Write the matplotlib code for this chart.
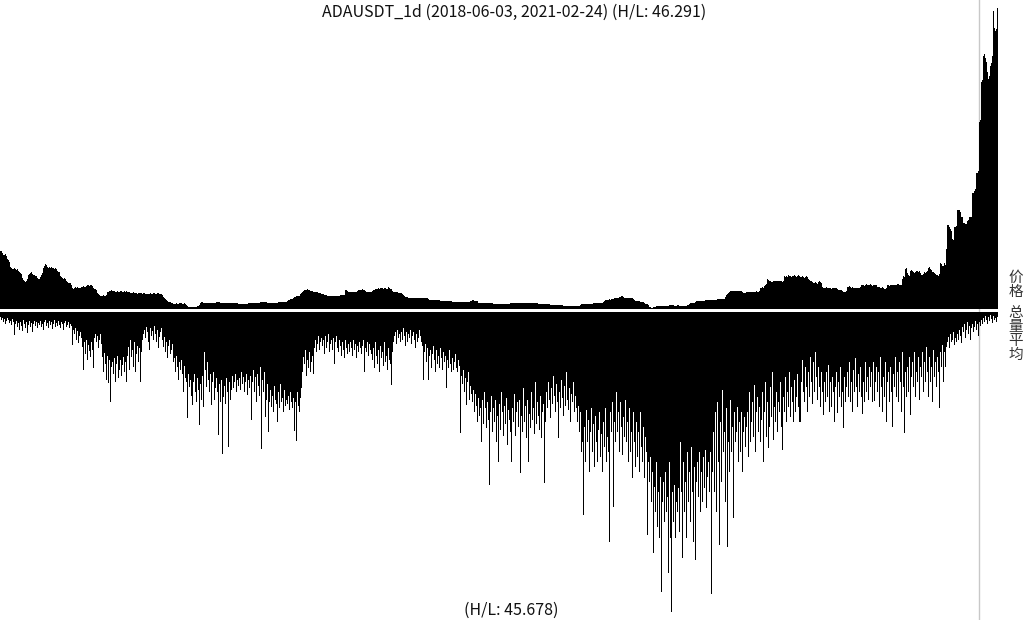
import numpy as np
import pandas as pd
import matplotlib
matplotlib.use('Agg')
import matplotlib.pyplot as plt
from matplotlib.lines import Line2D

plt.rcParams['font.family'] = ['Noto Sans CJK SC', 'DejaVu Sans']

# Price bars (daily, relative height)
price_2018 = [
    58, 58, 56, 54, 54, 55, 53, 50, 49, 47,
    42, 41, 40, 40, 41, 40, 39, 40, 38, 37,
    36, 35, 31, 29, 28, 27, 28, 30, 34, 35,
    36, 37, 35, 34, 34, 33, 33, 31, 30, 30,
    32, 34, 36, 41, 43, 45, 44, 42, 41, 42,
    41, 42, 41, 41, 40, 41, 40, 38, 37, 37,
    33, 32, 31, 30, 31, 30, 28, 27, 26, 26,
    26, 24, 21, 20, 21, 22, 21, 22, 21, 21,
    21, 22, 22, 23, 22, 22, 23, 24, 24, 23,
    24, 24, 23, 21, 20, 20, 19, 16, 15, 14,
    13, 13, 13, 14, 13, 13, 14, 17, 17, 18,
    18, 19, 18, 18, 18, 17, 17, 18, 17, 17,
    18, 18, 17, 17, 18, 17, 18, 17, 17, 17,
    16, 16, 16, 17, 16, 16, 16, 15, 16, 16,
    16, 16, 15, 16, 16, 15, 15, 15, 15, 15,
    16, 15, 15, 16, 16, 15, 15, 16, 16, 15,
    15, 15, 14, 12, 11, 10, 9, 8, 7, 7,
    7, 6, 6, 5, 5, 5, 6, 5, 5, 6,
    6, 6, 5, 5, 6, 5, 4, 3, 2, 2,
    2, 2, 2, 2, 2, 2, 2, 3, 3, 4,
    6, 7, 7, 6, 6, 6, 6, 6, 6, 6,
    6, 6,
]
price_2019 = [
    6, 6, 6, 6, 7, 7, 7, 7, 6, 6,
    6, 6, 6, 6, 6, 6, 6, 6, 6, 6,
    6, 6, 6, 6, 6, 6, 5, 5, 5, 5,
    5, 5, 5, 5, 5, 5, 6, 6, 6, 6,
    6, 6, 6, 6, 6, 6, 6, 6, 7, 7,
    7, 7, 7, 7, 7, 6, 6, 6, 6, 6,
    6, 6, 6, 6, 6, 6, 7, 7, 7, 7,
    7, 7, 7, 7, 7, 8, 9, 9, 10, 10,
    10, 11, 12, 12, 13, 13, 13, 13, 15, 16,
    17, 18, 19, 19, 19, 20, 19, 19, 18, 18,
    18, 17, 17, 17, 17, 17, 16, 16, 16, 15,
    15, 15, 14, 14, 14, 13, 13, 13, 13, 13,
    13, 13, 13, 13, 13, 13, 13, 13, 14, 14,
    14, 14, 14, 19, 19, 18, 17, 17, 17, 17,
    17, 17, 17, 17, 17, 18, 19, 19, 19, 19,
    20, 19, 19, 18, 17, 17, 17, 17, 17, 17,
    18, 19, 19, 20, 20, 20, 21, 20, 21, 21,
    21, 20, 21, 21, 20, 20, 22, 21, 20, 20,
    18, 17, 17, 17, 17, 17, 16, 16, 16, 16,
    15, 14, 13, 12, 12, 12, 11, 11, 11, 11,
    11, 11, 11, 11, 11, 11, 11, 11, 11, 11,
    11, 11, 11, 11, 11, 11, 10, 9, 9, 9,
    9, 9, 9, 9, 9, 9, 9, 9, 8, 8,
    8, 8, 8, 8, 8, 8, 8, 8, 8, 8,
    7, 7, 7, 7, 7, 7, 7, 7, 7, 7,
    7, 7, 7, 7, 7, 7, 7, 7, 8, 8,
    9, 9, 8, 8, 8, 8, 6, 6, 6, 6,
    6, 6, 6, 6, 6, 6, 6, 6, 6, 6,
    6, 5, 5, 5, 5, 5, 5, 5, 5, 5,
    5, 5, 5, 5, 5, 5, 5, 5, 6, 6,
    6, 6, 6, 6, 6, 6, 6, 6, 6, 6,
    6, 6, 6, 6, 6, 6, 6, 6, 6, 6,
    6, 6, 6, 6, 6, 6, 5, 5, 5, 5,
    5, 5, 5, 5, 5, 5, 5, 5, 4, 4,
    4, 4, 4, 4, 4, 4, 4, 4, 4, 4,
    4, 3, 3, 3, 3, 3, 3, 3, 3, 3,
    3, 3, 3, 3, 3,
]
price_2020 = [
    3, 3, 3, 4, 5, 5, 5, 5, 5, 5,
    5, 5, 5, 5, 5, 5, 6, 6, 6, 6,
    6, 6, 6, 6, 6, 6, 7, 8, 9, 9,
    9, 9, 10, 9, 10, 10, 10, 11, 11, 11,
    11, 11, 12, 12, 13, 13, 12, 11, 11, 11,
    11, 11, 11, 11, 11, 11, 10, 9, 8, 8,
    8, 8, 8, 7, 7, 7, 7, 6, 5, 5,
    5, 4, 2, 2, 1, 1, 2, 2, 2, 3,
    3, 3, 3, 3, 3, 3, 3, 3, 3, 3,
    3, 3, 4, 4, 4, 4, 4, 3, 3, 3,
    4, 4, 3, 3, 3, 3, 3, 3, 3, 3,
    4, 4, 5, 6, 6, 6, 6, 6, 7, 8,
    8, 8, 8, 8, 8, 8, 8, 8, 9, 9,
    9, 9, 9, 9, 9, 9, 9, 9, 9, 9,
    10, 10, 10, 10, 10, 10, 10, 10, 12, 14,
    15, 16, 17, 18, 18, 18, 18, 18, 18, 18,
    18, 18, 18, 18, 18, 17, 16, 16, 16, 17,
    17, 17, 17, 17, 17, 17, 17, 17, 17, 18,
    17, 17, 18, 21, 21, 22, 21, 23, 24, 25,
    30, 29, 28, 28, 27, 27, 28, 28, 28, 28,
    28, 28, 28, 28, 28, 27, 28, 33, 32, 33,
    32, 34, 33, 33, 32, 33, 33, 34, 33, 32,
    33, 34, 33, 32, 32, 33, 32, 31, 32, 33,
    32, 30, 29, 28, 28, 27, 26, 26, 27, 26,
    25, 27, 28, 27, 26, 22, 21, 21, 21, 22,
    21, 21, 21, 21, 20, 21, 21, 21, 21, 21,
    20, 19, 19, 19, 19, 18, 17, 17, 17, 18,
    22, 22, 23, 22, 21, 22, 21, 21, 21, 21,
    21, 21, 21, 22, 24, 24, 24, 23, 24, 25,
    24, 24, 24, 25, 24, 23, 24, 24, 24, 24,
    22, 22, 22, 21, 21, 22, 21, 20, 20, 21,
    24, 24, 23, 24, 24, 24, 24, 24, 24, 24,
    25, 25, 24, 24, 24, 30, 33, 32, 40, 41,
    36, 34, 33, 38, 39, 38, 37, 36, 37, 38,
    38, 37, 38, 36, 34, 34, 35, 37, 36, 37,
    38, 41, 42, 40, 39, 37, 37, 36, 35, 34,
    34, 33, 35, 46, 45, 43,
]
price_2021 = [
    43, 46, 44, 60, 84, 84, 82, 80, 78, 70,
    69, 82, 82, 83, 99, 99, 99, 97, 92, 92,
    86, 86, 85, 85, 88, 89, 92, 92, 92, 116,
    116, 118, 120, 136, 136, 138, 186, 188, 226, 228,
    252, 254, 250, 246, 236, 229, 232, 242, 245, 252,
    297, 280, 277, 279, 300,
]

# Average volume bars (daily, drawn downward)
volume_2018 = [
    5, 8, 6, 10, 7, 12, 9, 6, 8, 11,
    9, 13, 7, 10, 23, 12, 9, 15, 11, 18,
    10, 14, 19, 8, 12, 16, 10, 21, 13, 9,
    15, 11, 20, 12, 9, 14, 10, 16, 11, 13,
    9, 15, 12, 18, 10, 8, 14, 11, 16, 9,
    13, 10, 17, 12, 8, 15, 11, 14, 9, 13,
    16, 10, 12, 18, 11, 9, 15, 13, 10, 16,
    12, 14, 33, 18, 22, 16, 28, 19, 31, 24,
    20, 26, 35, 58, 30, 42, 28, 48, 33, 39,
    45, 30, 38, 56, 26, 22, 30, 24, 36, 28,
    22, 32, 45, 60, 41, 52, 68, 44, 71, 48,
    90, 55, 50, 62, 46, 70, 52, 44, 66, 58,
    48, 64, 53, 45, 60, 50, 70, 44, 35, 58,
    28, 45, 38, 55, 30, 60, 42, 34, 50, 36,
    70, 40, 28, 22, 18, 26, 15, 20, 30, 38,
    16, 24, 19, 28, 14, 22, 30, 18, 36, 25,
    20, 16, 28, 35, 25, 40, 30, 46, 34, 28,
    42, 38, 32, 50, 46, 60, 44, 55, 68, 50,
    58, 48, 62, 80, 54, 66, 70, 106, 62, 75,
    68, 84, 93, 70, 62, 80, 90, 66, 78, 113,
    72, 88, 64, 95, 40, 58, 75, 50, 68, 80,
    62, 93,
]
volume_2019 = [
    70, 60, 88, 76, 66, 80, 123, 72, 90, 68,
    142, 85, 74, 92, 66, 80, 135, 70, 88, 78,
    64, 76, 70, 62, 80, 68, 74, 66, 78, 60,
    72, 65, 80, 70, 62, 83, 68, 76, 64, 108,
    70, 58, 80, 65, 90, 62, 74, 84, 55, 137,
    68, 80, 60, 105, 88, 72, 120, 90, 78, 95,
    84, 100, 74, 88, 92, 110, 80, 96, 72, 90,
    86, 100, 78, 94, 88, 92, 84, 98, 80, 90,
    96, 86, 119, 90, 129, 80, 94, 100, 86, 76,
    60, 45, 52, 38, 64, 48, 56, 40, 60, 50,
    44, 62, 36, 28, 40, 32, 24, 38, 30, 26,
    34, 28, 42, 24, 36, 30, 22, 40, 32, 28,
    38, 26, 52, 30, 24, 36, 40, 28, 34, 44,
    30, 38, 46, 28, 36, 42, 32, 40, 30, 36,
    44, 28, 38, 32, 46, 34, 40, 30, 36, 42,
    34, 28, 60, 36, 40, 30, 44, 32, 38, 42,
    48, 36, 56, 30, 44, 52, 38, 60, 34, 46,
    40, 54, 30, 50, 44, 58, 36, 48, 52, 73,
    40, 30, 24, 20, 32, 18, 26, 22, 30, 20,
    28, 16, 24, 34, 20, 30, 22, 26, 18, 32,
    24, 20, 28, 36, 22, 30, 26, 18, 24, 30,
    34, 68, 40, 32, 50, 36, 68, 44, 38, 56,
    42, 34, 48, 60, 38, 52, 44, 56, 36, 46,
    58, 40, 50, 44, 76, 48, 56, 38, 52, 60,
    46, 58, 50, 42, 56, 60, 48, 54, 121, 64,
    72, 58, 80, 66, 93, 70, 60, 88, 74, 82,
    90, 78, 100, 82, 94, 110, 86, 104, 96, 130,
    88, 112, 80, 96, 116, 90, 108, 173, 100, 84,
    120, 96, 110, 88, 130, 104, 150, 92, 118, 80,
    100, 124, 94, 112, 86, 133, 98, 108, 120, 150,
    96, 110, 82, 124, 100, 90, 115, 88, 161, 104,
    120, 76, 110, 94, 126, 88, 150, 102, 116, 80,
    108, 96, 122, 70, 112, 90, 104, 118, 84, 126,
    100, 92, 171, 110, 80, 96, 70, 88, 106, 76,
    92, 64, 84, 100, 72, 90, 126, 80, 96, 68,
    86, 104, 74, 94, 60, 88, 98, 76, 110, 82,
    90, 70, 100, 84, 96,
]
volume_2020 = [
    110, 94, 120, 100, 140, 130, 203, 115, 150, 98,
    130, 108, 160, 120, 96, 140, 112, 155, 104, 130,
    150, 118, 100, 145, 122, 160, 110, 135, 96, 150,
    125, 140, 230, 100, 120, 90, 195, 110, 130, 80,
    120, 100, 140, 90, 115, 143, 105, 125, 88, 130,
    110, 150, 96, 140, 120, 166, 100, 130, 155, 110,
    145, 120, 160, 100, 135, 150, 115, 166, 125, 140,
    223, 150, 170, 145, 190, 160, 241, 175, 200, 150,
    215, 180, 226, 165, 280, 190, 170, 210, 160, 200,
    185, 261, 150, 226, 300, 180, 210, 173, 226, 190,
    200, 176, 220, 130, 180, 246, 150, 200, 170, 226,
    140, 190, 160, 210, 135, 180, 230, 155, 248, 170,
    150, 185, 140, 200, 160, 190, 145, 176, 138, 196,
    165, 150, 180, 140, 282, 160, 120, 180, 100, 200,
    90, 150, 233, 110, 170, 78, 140, 120, 190, 96,
    235, 130, 160, 88, 140, 115, 206, 100, 130, 120,
    95, 150, 110, 140, 100, 160, 120, 105, 135, 115,
    100, 145, 80, 130, 110, 90, 125, 73, 140, 100,
    85, 120, 95, 130, 108, 80, 150, 100, 70, 125,
    90, 136, 115, 75, 105, 60, 128, 95, 110, 80,
    120, 90, 100, 70, 115, 138, 85, 100, 65, 110,
    80, 95, 60, 105, 75, 90, 110, 68, 100, 85,
    62, 95, 110, 110, 70, 48, 80, 90, 55, 75,
    100, 60, 85, 45, 70, 92, 50, 80, 40, 65,
    88, 55, 75, 95, 60, 80, 103, 70, 90, 60,
    85, 53, 100, 70, 95, 65, 80, 110, 75, 60,
    101, 70, 85, 55, 95, 80, 116, 65, 90, 75,
    60, 85, 50, 90, 70, 100, 58, 80, 46, 75,
    95, 62, 80, 55, 85, 102, 70, 90, 50, 80,
    65, 88, 55, 75, 60, 90, 50, 89, 70, 55,
    80, 60, 95, 45, 75, 100, 65, 85, 50, 110,
    70, 60, 90, 55, 80, 115, 62, 75, 45, 85,
    60, 90, 50, 70, 100, 40, 75, 121, 60, 85,
    55, 80, 45, 103, 65, 50, 75, 40, 85, 60,
    70, 45, 88, 55, 65, 40, 80, 50, 70, 35,
    60, 85, 45, 70, 55, 90, 38, 65, 50, 75,
    45, 60, 96, 40, 55, 33,
]
volume_2021 = [
    70, 40, 55, 35, 30, 25, 36, 22, 30, 28,
    20, 33, 26, 30, 22, 28, 18, 24, 31, 15,
    20, 12, 26, 18, 10, 22, 14, 28, 16, 12,
    20, 15, 9, 18, 12, 24, 10, 14, 8, 12,
    6, 10, 4, 8, 12, 5, 9, 3, 7, 11,
    4, 8, 6, 10, 5,
]

title_text = 'ADAUSDT_1d (2018-06-03, 2021-02-24) (H/L: 46.291)'
bottom_text = '(H/L: 45.678)'
price_label = '价\n格'
volume_label = '总\n量\n平\n均'
marker_day = '2021-02-06'

price = np.array(price_2018 + price_2019 + price_2020 + price_2021, dtype=float)
volume = np.array(volume_2018 + volume_2019 + volume_2020 + volume_2021, dtype=float)
dates = pd.date_range('2018-06-03', periods=len(price), freq='D')
x = np.arange(len(price))
xv = np.arange(len(volume))
n = len(price)

W, H = 1024, 620
fig = plt.figure(figsize=(W / 100, H / 100), dpi=100)
fig.patch.set_facecolor('white')

# price panel (bars grow upward from y=309px)
ax_p = fig.add_axes([0, (H - 309) / H, 998 / W, 301 / H])
ax_p.bar(x, price, width=1.0, color='black', linewidth=0, antialiased=False)
ax_p.set_xlim(-0.5, n - 0.5)
ax_p.set_ylim(0, price.max())

# volume panel (bars grow downward from y=312px)
ax_v = fig.add_axes([0, (H - 612) / H, 998 / W, 300 / H])
ax_v.bar(xv, volume, width=1.0, color='black', linewidth=0, antialiased=False)
ax_v.set_xlim(-0.5, n - 0.5)
ax_v.set_ylim(volume.max(), 0)

for ax in (ax_p, ax_v):
    ax.set_facecolor('none')
    ax.axis('off')

# thin gray marker line behind the bars
mi = dates.get_loc(pd.Timestamp(marker_day))
xf = ax_p.transData.transform((mi, 0))[0] / fig.bbox.width
fig.add_artist(Line2D([xf, xf], [0, 1], transform=fig.transFigure,
                      color='#c8c8c8', linewidth=1.0, zorder=-1))

fig.text(514 / W, 1 - 12 / H, title_text, ha='center', va='center',
         fontsize=11.5, color='#111111')
fig.text(511 / W, 1 - 610 / H, bottom_text, ha='center', va='center',
         fontsize=11.5, color='#111111')
fig.text(1015.5 / W, 1 - 285 / H, price_label, ha='center', va='center',
         fontsize=10.5, color='#333333', linespacing=1.0)
fig.text(1015.5 / W, 1 - 334 / H, volume_label, ha='center', va='center',
         fontsize=10.5, color='#333333', linespacing=1.0)

fig.savefig('out.png', dpi=100, facecolor='white')
